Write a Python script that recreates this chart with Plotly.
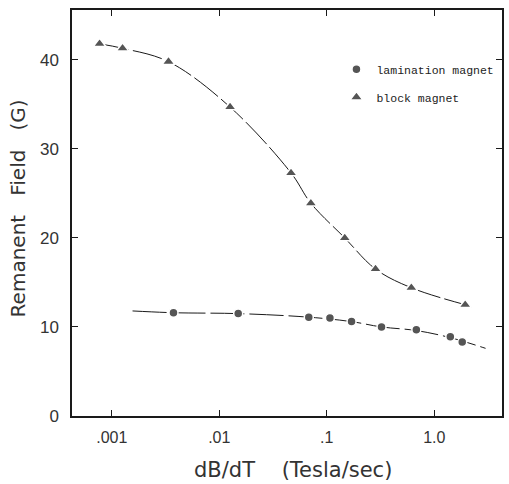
import plotly.graph_objects as go

# Block magnet (triangles)
block_x = [0.00077, 0.00126, 0.00337, 0.0126, 0.0465, 0.0711, 0.147, 0.284, 0.612, 1.94]
block_y = [41.8, 41.3, 39.8, 34.7, 27.3, 23.9, 20.0, 16.5, 14.4, 12.5]

# Lamination magnet (circles)
lam_x = [0.00375, 0.015, 0.068, 0.107, 0.170, 0.323, 0.681, 1.41, 1.82]
lam_y = [11.6, 11.5, 11.1, 11.0, 10.6, 10.0, 9.7, 8.9, 8.3]

# Hand-drawn fit curve of lamination magnet (extends beyond the data)
lam_fit_x = [0.00156, 0.00375, 0.015, 0.068, 0.170, 0.323, 0.681, 1.41, 3.0]
lam_fit_y = [11.8, 11.6, 11.5, 11.1, 10.6, 10.0, 9.6, 8.8, 7.6]

x_tickvals = [0.001, 0.01, 0.1, 1.0]
x_ticktext = [".001", ".01", ".1", "1.0"]
y_tickvals = [0, 10, 20, 30, 40]

ink = "#1a1a1a"
mark = "#555555"

fig = go.Figure()

fig.add_trace(go.Scatter(x=block_x, y=block_y, mode="lines",
                         line=dict(color=ink, width=1, shape="spline", dash="30px,4px"),
                         showlegend=False, hoverinfo="skip"))
fig.add_trace(go.Scatter(x=lam_fit_x, y=lam_fit_y, mode="lines",
                         line=dict(color=ink, width=1, shape="spline", dash="34px,5px"),
                         showlegend=False, hoverinfo="skip"))

fig.add_trace(go.Scatter(x=lam_x, y=lam_y, mode="markers", name="lamination magnet",
                         marker=dict(symbol="circle", size=9, color=mark,
                                     line=dict(color="white", width=1.5)),
                         legendgroup="a"))
fig.add_trace(go.Scatter(x=block_x, y=block_y, mode="markers", name="block magnet",
                         marker=dict(symbol="triangle-up", size=11, color=mark,
                                     line=dict(color="white", width=1.5)),
                         legendgroup="b"))

fig.update_layout(
    width=509, height=484,
    margin=dict(l=72, r=5, t=10, b=68),
    paper_bgcolor="white", plot_bgcolor="white",
    font=dict(family="Liberation Sans", color="#222"),
    legend=dict(x=0.615, y=0.89, xanchor="left", yanchor="top",
                font=dict(family="Liberation Mono", size=11.5, color="#222"),
                tracegroupgap=9, itemwidth=30, bgcolor="rgba(0,0,0,0)"),
    xaxis=dict(type="log", range=[-3.37, 0.63],
               tickvals=x_tickvals, ticktext=x_ticktext,
               ticks="inside", ticklen=6, tickcolor=ink, tickwidth=1,
               showline=True, linecolor=ink, linewidth=1.5, mirror="ticks",
               showgrid=False, zeroline=False,
               tickfont=dict(size=16, color="#333"), ticklabelstandoff=6),
    yaxis=dict(range=[0, 45.6], tickvals=y_tickvals,
               ticks="inside", ticklen=6, tickcolor=ink, tickwidth=1,
               showline=True, linecolor=ink, linewidth=1.5, mirror="ticks",
               showgrid=False, zeroline=False,
               tickfont=dict(size=17, color="#333"), ticklabelstandoff=8),
    annotations=[
        dict(text="Remanent   Field   (G)", xref="paper", yref="paper",
             x=-0.125, y=0.512, xanchor="center", yanchor="middle",
             textangle=-90, showarrow=False,
             font=dict(family="DejaVu Sans", size=20, color="#333")),
        dict(text="dB/dT    (Tesla/sec)", xref="paper", yref="paper",
             x=0.514, y=-0.133, xanchor="center", yanchor="middle",
             showarrow=False,
             font=dict(family="DejaVu Sans", size=21, color="#333")),
    ],
)

fig.write_html("out.html")
